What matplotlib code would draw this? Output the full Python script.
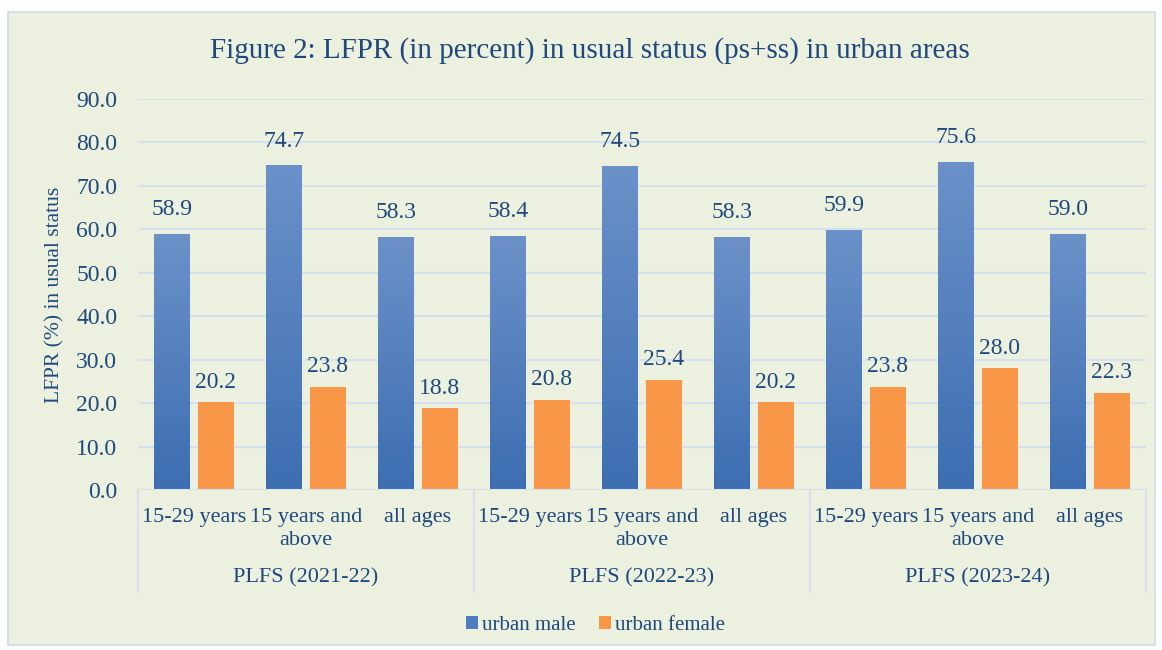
import matplotlib
matplotlib.use("Agg")
import matplotlib.pyplot as plt
import numpy as np
from matplotlib.patches import Rectangle, Patch
from matplotlib.colors import LinearSegmentedColormap

# ---- data ----
groups = ["PLFS (2021-22)", "PLFS (2022-23)", "PLFS (2023-24)"]
age_cats = ["15-29 years", "15 years and\nabove", "all ages"]
urban_male = [58.9, 74.7, 58.3, 58.4, 74.5, 58.3, 59.9, 75.6, 59.0]
urban_female = [20.2, 23.8, 18.8, 20.8, 25.4, 20.2, 23.8, 28.0, 22.3]
yticks = [0, 10, 20, 30, 40, 50, 60, 70, 80, 90]

TXT = "#1F497D"
BG = "#EBF0DF"
GRID = "#D5E1EF"
ORANGE = "#F79646"
plt.rcParams['font.family'] = ['Liberation Serif', 'DejaVu Serif']

fig = plt.figure(figsize=(11.62, 6.5), dpi=100)
fig.patch.set_facecolor("white")
fig.patches.append(Rectangle((8/1162, 5/650), 1147/1162, 633/650, transform=fig.transFigure,
                             facecolor=BG, edgecolor="#CCDCEE", linewidth=1.2, zorder=-10))

ax = fig.add_axes([138/1162, 160/650, 1008/1162, 391/650])
ax.set_facecolor("none")
n = len(urban_male)
x = np.arange(n)
w = 0.32
off = 0.195

cmap = LinearSegmentedColormap.from_list("m", ["#3C6EB2", "#6C91C9"])
grad = np.linspace(0, 1, 256).reshape(-1, 1)
mbars = ax.bar(x - off, urban_male, width=w, color="none", edgecolor="none", zorder=3)
for b in mbars:
    x0 = b.get_x()
    bw = b.get_width()
    bh = b.get_height()
    im = ax.imshow(grad, extent=[x0, x0 + bw, 0, bh], origin="lower", cmap=cmap,
                   aspect="auto", zorder=3, interpolation="bilinear")
    im.set_clip_path(b)
fbars = ax.bar(x + off, urban_female, width=w, color=ORANGE, zorder=3)

for xi, v in zip(x, urban_male):
    ax.annotate(f"{v:.1f}", (xi - off, v), xytext=(0, 10), textcoords="offset points",
                ha="center", va="bottom", fontsize=17, color=TXT)
for xi, v in zip(x, urban_female):
    ax.annotate(f"{v:.1f}", (xi + off, v), xytext=(0, 7), textcoords="offset points",
                ha="center", va="bottom", fontsize=17, color=TXT)

ax.set_xlim(-0.5, n - 0.5)
ax.set_ylim(0, 90)
ax.set_yticks(yticks)
ax.set_yticklabels([f"{t:.1f}" for t in yticks], fontsize=17, color=TXT)
ax.tick_params(axis="y", length=0, pad=15)
ax.tick_params(axis="x", length=0)
ax.set_xticks([])
for s in ax.spines.values():
    s.set_visible(False)
ax.grid(axis="y", color=GRID, linewidth=1.5, zorder=0)
ax.axhline(0, color=GRID, linewidth=1.5, zorder=4)

# category labels
for i in range(n):
    ax.text(i, -0.046, age_cats[i % 3], transform=ax.get_xaxis_transform(),
            ha="center", va="top", fontsize=16, color=TXT, linespacing=1.3)
for g, name in enumerate(groups):
    ax.text(3 * g + 1, -0.225, name, transform=ax.get_xaxis_transform(),
            ha="center", va="center", fontsize=16, color=TXT)
for b in [-0.5, 2.5, 5.5, 8.5]:
    ax.plot([b, b], [0, -0.262], transform=ax.get_xaxis_transform(), color=GRID,
            linewidth=1.5, clip_on=False)

ax.set_ylabel("LFPR (%) in usual status", fontsize=15.5, color=TXT, labelpad=0)
ax.yaxis.set_label_coords(-0.073, 0.5)

fig.text(0.508, 0.923, "Figure 2: LFPR (in percent) in usual status (ps+ss) in urban areas",
         ha="center", va="center", fontsize=21, color=TXT)

handles = [Patch(facecolor="#4F7CBE", label="urban male"), Patch(facecolor=ORANGE, label="urban female")]
fig.legend(handles=handles, loc="center", bbox_to_anchor=(0.5125, 0.038), ncol=2, frameon=False,
           fontsize=15, handlelength=0.6, handleheight=0.6, handletextpad=0.2, columnspacing=1.1,
           labelcolor=TXT)

fig.savefig("out.png", dpi=100, facecolor="white")
